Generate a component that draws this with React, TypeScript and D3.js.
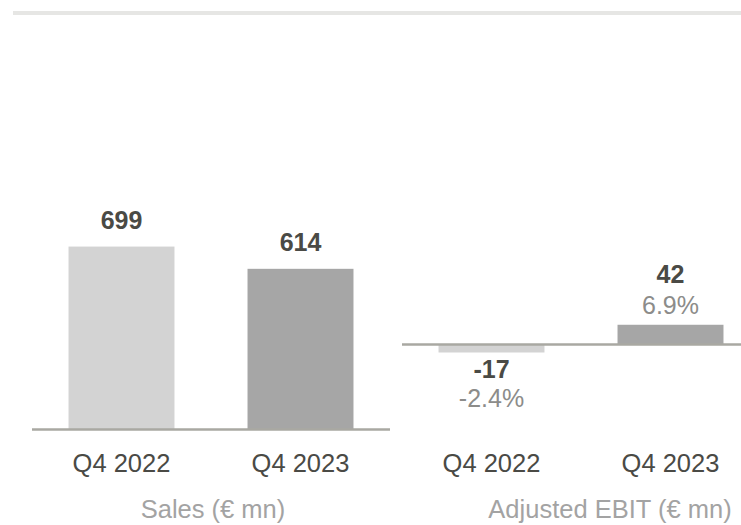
import React from "react";
import * as d3 from "d3";

const categories = ["Q4 2022", "Q4 2023"];
const salesValues = [699, 614];
const ebitValues = [-17, 42];
const ebitMargins = ["-2.4%", "6.9%"];
const panelTitles = ["Sales (€ mn)", "Adjusted EBIT (€ mn)"];
const barColors = ["#d3d3d3", "#a6a6a6"];

const W = 741;
const H = 525;
const FONT = "'Liberation Sans', Arial, Helvetica, sans-serif";
const DARK = "#4a4a45";
const AXIS = "#a9a8a2";

export default function App() {
  const xL = d3.scaleBand<string>().domain(categories).range([32, 390]).paddingInner(0.408).paddingOuter(0.204);
  const xR = d3.scaleBand<string>().domain(categories).range([402, 760]).paddingInner(0.408).paddingOuter(0.204);
  const yL = d3.scaleLinear().domain([0, 1000]).range([429.5, 429.5 - 261.7]);
  const yR = d3.scaleLinear().domain([0, 100]).range([344.5, 344.5 - 47]);

  return (
    <svg width={W} height={H} style={{ position: "absolute", left: 0, top: 0, background: "#fff" }} fontFamily={FONT}>
      <rect x={13} y={11} width={W - 13} height={4} fill="#e6e6e4" />

      {/* Sales panel */}
      {categories.map((c, i) => {
        const x = xL(c)!;
        const bw = xL.bandwidth();
        const y = yL(salesValues[i]);
        return (
          <g key={"s" + c}>
            <rect x={x} y={y} width={bw} height={yL(0) - y} fill={barColors[i]} />
            <text x={x + bw / 2} y={y - 18} textAnchor="middle" fontSize={25} fontWeight="bold" fill={DARK}>
              {d3.format("d")(salesValues[i])}
            </text>
            <text x={x + bw / 2} y={472} textAnchor="middle" fontSize={25.5} fill={DARK}>
              {c}
            </text>
          </g>
        );
      })}
      <line x1={xL.range()[0]} x2={xL.range()[1]} y1={yL(0)} y2={yL(0)} stroke={AXIS} strokeWidth={2.5} />
      <text x={213} y={518} textAnchor="middle" fontSize={25.5} fill="#a3a3a3">{panelTitles[0]}</text>

      {/* EBIT panel */}
      {categories.map((c, i) => {
        const x = xR(c)!;
        const bw = xR.bandwidth();
        const v = ebitValues[i];
        const y0 = yR(0);
        const y = yR(v);
        const cx = x + bw / 2;
        const top = Math.min(y, y0);
        const h = Math.abs(y - y0);
        return (
          <g key={"e" + c}>
            <rect x={x} y={top} width={bw} height={h} fill={barColors[i]} />
            {v >= 0 ? (
              <>
                <text x={cx} y={y - 42} textAnchor="middle" fontSize={25} fontWeight="bold" fill={DARK}>{v}</text>
                <text x={cx} y={y - 11} textAnchor="middle" fontSize={25} fill="#8c8c8a">{ebitMargins[i]}</text>
              </>
            ) : (
              <>
                <text x={cx} y={y + 26} textAnchor="middle" fontSize={25} fontWeight="bold" fill={DARK}>{v}</text>
                <text x={cx} y={y + 55} textAnchor="middle" fontSize={25} fill="#8c8c8a">{ebitMargins[i]}</text>
              </>
            )}
            <text x={cx} y={472} textAnchor="middle" fontSize={25.5} fill={DARK}>
              {c}
            </text>
          </g>
        );
      })}
      <line x1={xR.range()[0]} x2={xR.range()[1]} y1={yR(0)} y2={yR(0)} stroke={AXIS} strokeWidth={2.5} />
      <text x={610} y={518} textAnchor="middle" fontSize={25.5} fill="#a3a3a3">{panelTitles[1]}</text>
    </svg>
  );
}
